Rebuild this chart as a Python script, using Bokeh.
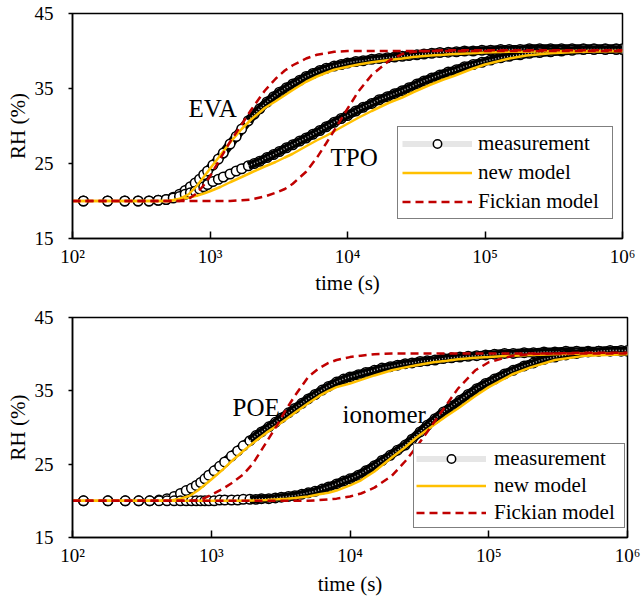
from bokeh.plotting import figure
from bokeh.models import (Range1d, FixedTicker, CustomJSTickFormatter, Legend,
                          LegendItem, Label, ColumnDataSource)
from bokeh.layouts import column
from bokeh.embed import file_html
from bokeh.resources import INLINE

FONT = "Liberation Serif"
ORANGE = "#FFC000"
RED = "#C00000"

# ---------------- data ----------------
meas_time = [120, 180, 240, 300, 360, 420, 480, 540, 600, 660,
             720, 780, 840, 900, 960, 1050, 1150, 1250, 1400, 1550,
             1700, 1900, 2100, 2300, 2600, 2900, 3200, 3600, 4000, 4500,
             5000, 5600, 6300, 7000, 8000, 9000, 10000, 11500, 13000, 15000,
             17000, 19500, 22000, 25000, 28000, 32000, 36000, 41000, 47000, 54000,
             62000, 71000, 82000, 95000, 110000, 130000, 150000, 180000, 210000, 250000,
             300000, 360000, 430000, 520000, 620000, 750000, 900000, 1000000]

eva_meas = [20.0, 20.0, 20.0, 20.0, 20.0, 20.1, 20.2, 20.5, 20.9, 21.4,
            21.9, 22.4, 22.9, 23.5, 24.0, 24.8, 25.6, 26.4, 27.6, 28.6,
            29.6, 30.7, 31.6, 32.3, 33.2, 33.9, 34.5, 35.1, 35.6, 36.1,
            36.6, 37.0, 37.4, 37.7, 38.0, 38.2, 38.4, 38.6, 38.7, 38.9,
            39.0, 39.1, 39.2, 39.3, 39.4, 39.5, 39.6, 39.7, 39.8, 39.85,
            39.9, 40.0, 40.0, 40.1, 40.1, 40.2, 40.2, 40.2, 40.3, 40.3,
            40.3, 40.3, 40.3, 40.3, 40.3, 40.3, 40.3, 40.3]

tpo_meas = [20.0, 20.0, 20.0, 20.0, 20.0, 20.1, 20.2, 20.4, 20.6, 20.9,
            21.1, 21.3, 21.6, 21.9, 22.2, 22.6, 22.9, 23.2, 23.6, 24.0,
            24.3, 24.7, 25.0, 25.3, 25.8, 26.2, 26.6, 27.1, 27.5, 28.0,
            28.4, 28.9, 29.4, 29.9, 30.5, 31.0, 31.4, 32.0, 32.5, 33.0,
            33.5, 33.9, 34.3, 34.7, 35.1, 35.6, 36.0, 36.4, 36.8, 37.2,
            37.5, 37.9, 38.2, 38.5, 38.8, 39.1, 39.3, 39.5, 39.7, 39.8,
            39.9, 40.0, 40.1, 40.2, 40.2, 40.2, 40.2, 40.2]

poe_meas = [20.0, 20.0, 20.0, 20.0, 20.0, 20.1, 20.3, 20.6, 21.0, 21.4,
            21.7, 22.1, 22.5, 23.0, 23.5, 24.1, 24.7, 25.3, 26.1, 26.8,
            27.5, 28.2, 28.9, 29.4, 30.1, 30.7, 31.3, 32.0, 32.6, 33.3,
            33.9, 34.5, 35.1, 35.6, 36.2, 36.6, 36.9, 37.2, 37.5, 37.8,
            38.1, 38.3, 38.5, 38.7, 38.8, 39.0, 39.1, 39.2, 39.4, 39.5,
            39.6, 39.7, 39.8, 39.9, 40.0, 40.1, 40.1, 40.2, 40.2, 40.3,
            40.3, 40.4, 40.4, 40.4, 40.4, 40.4, 40.4, 40.4]

ionomer_meas = [20.0, 20.0, 20.0, 20.0, 20.0, 20.0, 20.0, 20.0, 20.0, 20.0,
                20.0, 20.0, 20.0, 20.0, 20.0, 20.0, 20.1, 20.1, 20.1, 20.1,
                20.2, 20.2, 20.2, 20.3, 20.3, 20.4, 20.5, 20.6, 20.7, 20.9,
                21.1, 21.3, 21.6, 21.9, 22.3, 22.7, 23.0, 23.5, 24.1, 24.8,
                25.5, 26.2, 26.9, 27.6, 28.4, 29.4, 30.3, 31.2, 32.1, 32.9,
                33.7, 34.5, 35.3, 36.0, 36.6, 37.3, 37.8, 38.4, 38.8, 39.3,
                39.6, 39.9, 40.1, 40.3, 40.4, 40.5, 40.5, 40.5]

model_time = [100, 200, 300, 400, 500, 600, 700, 800, 900, 1000,
              1200, 1400, 1700, 2000, 2500, 3000, 3500, 4000,
              5000, 6000, 7000, 8000,
              10000, 12000, 15000, 20000, 25000, 30000, 40000, 50000, 60000, 80000,
              100000, 150000, 200000, 300000, 500000, 1000000]

eva_new = [20.0, 20.0, 20.0, 20.0, 20.0, 20.3, 20.9, 22.0, 23.2, 24.3,
           26.2, 27.8, 29.6, 30.9, 32.4, 33.3, 34.1, 34.8,
           35.9, 36.6, 37.1, 37.5,
           37.9, 38.2, 38.5, 38.8, 39.0, 39.2, 39.4, 39.5, 39.6, 39.7,
           39.8, 39.9, 39.9, 40.0, 40.0, 40.0]
eva_fick = [20.0, 20.0, 20.0, 20.0, 20.0, 20.0, 20.3, 21.0, 22.1, 23.3,
            25.8, 27.9, 30.2, 32.2, 34.7, 36.3, 37.4, 38.1,
            39.0, 39.5, 39.7, 39.9,
            40.0, 40.0, 40.0, 40.0, 40.0, 40.0, 40.0, 40.0, 40.0, 40.0,
            40.0, 40.0, 40.0, 40.0, 40.0, 40.0]
tpo_new = [20.0, 20.0, 20.0, 20.0, 20.0, 20.2, 20.45, 20.7, 21.0, 21.3,
           21.9, 22.5, 23.2, 23.8, 24.6, 25.2, 25.8, 26.3,
           27.3, 28.1, 28.7, 29.3,
           30.3, 31.1, 32.0, 33.1, 33.8, 34.5, 35.5, 36.2, 36.7, 37.6,
           38.2, 39.0, 39.4, 39.7, 39.9, 40.0]
tpo_fick = [20.0, 20.0, 20.0, 20.0, 20.0, 20.0, 20.0, 20.0, 20.0, 20.0,
            20.0, 20.0, 20.1, 20.2, 20.6, 21.1, 21.6, 22.3,
            23.9, 25.8, 27.7, 29.4,
            32.3, 34.6, 36.8, 38.7, 39.6, 39.9, 40.0, 40.1, 40.1, 40.1,
            40.1, 40.1, 40.1, 40.1, 40.1, 40.1]
poe_new = [20.0, 20.0, 20.0, 20.0, 20.0, 20.3, 20.7, 21.4, 22.2, 22.9,
           24.2, 25.4, 26.8, 27.9, 29.3, 30.3, 31.2, 32.0,
           33.3, 34.3, 35.0, 35.5,
           36.0, 36.5, 37.1, 37.8, 38.2, 38.5, 38.9, 39.1, 39.3, 39.5,
           39.6, 39.8, 39.9, 40.0, 40.1, 40.1]
poe_fick = [20.0, 20.0, 20.0, 20.0, 20.0, 20.0, 20.0, 20.1, 20.4, 20.8,
            21.6, 22.4, 23.6, 25.1, 28.0, 30.4, 32.6, 34.3,
            36.9, 38.1, 38.8, 39.2,
            39.6, 39.8, 40.0, 40.1, 40.1, 40.1, 40.1, 40.1, 40.1, 40.1,
            40.1, 40.1, 40.1, 40.1, 40.1, 40.1]
ionomer_new = [20.0, 20.0, 20.0, 20.0, 20.0, 20.0, 20.0, 20.0, 20.0, 20.0,
               20.0, 20.0, 20.0, 20.05, 20.1, 20.2, 20.3, 20.4,
               20.6, 20.9, 21.1, 21.4,
               22.1, 22.8, 24.0, 25.9, 27.3, 28.6, 30.3, 31.6, 32.6, 34.3,
               35.5, 37.3, 38.2, 39.2, 39.8, 40.0]
ionomer_fick = [20.0, 20.0, 20.0, 20.0, 20.0, 20.0, 20.0, 20.0, 20.0, 20.0,
                20.0, 20.0, 20.0, 20.0, 20.0, 20.0, 20.0, 20.0,
                20.0, 20.1, 20.2, 20.3,
                20.6, 21.0, 21.8, 23.4, 25.4, 27.3, 30.6, 33.2, 35.3, 37.8,
                38.9, 39.8, 40.0, 40.1, 40.2, 40.2]

x_ticks = [100, 1000, 10000, 100000, 1000000]
y_ticks = [15, 25, 35, 45]
legend_labels = ["measurement", "new model", "Fickian model"]

# ---------------- drawing ----------------
NAN = float("nan")


def make_panel(frame_w, frame_h, borders, curves, notes,
               legend_xy, legend_pad, legend_spacing, legend_standoff, legend_lw,
               title_standoff):
    b_left, b_right, b_top, b_bottom = borders
    p = figure(frame_width=frame_w, frame_height=frame_h, x_axis_type="log",
               x_range=Range1d(100, 1e6), y_range=Range1d(15, 45),
               output_backend="svg", toolbar_location=None,
               min_border_left=b_left, min_border_right=b_right,
               min_border_top=b_top, min_border_bottom=b_bottom)
    p.xgrid.visible = False
    p.ygrid.visible = False
    p.outline_line_color = "black"
    p.outline_line_width = 1.5
    p.background_fill_color = "white"
    p.border_fill_color = "white"

    xa = p.xaxis[0]
    xa.ticker = FixedTicker(ticks=x_ticks, minor_ticks=[])
    xa.formatter = CustomJSTickFormatter(code="""
        const s = {2: "\\u00b2", 3: "\\u00b3", 4: "\\u2074", 5: "\\u2075", 6: "\\u2076"};
        return "10" + s[Math.round(Math.log10(tick))];
    """)
    xa.axis_label = "time (s)"
    xa.major_tick_in = 7
    xa.major_tick_out = 0
    xa.major_label_standoff = 7
    xa.axis_label_standoff = title_standoff

    ya = p.yaxis[0]
    ya.ticker = FixedTicker(ticks=y_ticks, minor_ticks=[])
    ya.axis_label = "RH (%)"
    ya.major_tick_in = 0
    ya.major_tick_out = 4
    ya.major_label_standoff = 15
    ya.axis_label_standoff = 2

    for ax in (xa, ya):
        ax.axis_line_color = "black"
        ax.axis_line_width = 1.5
        ax.major_tick_line_color = "black"
        ax.major_tick_line_width = 1.5
        ax.minor_tick_line_color = None
        ax.major_label_text_font = FONT
        ax.major_label_text_font_size = "19px"
        ax.major_label_text_color = "black"
        ax.axis_label_text_font = FONT
        ax.axis_label_text_font_size = "21px"
        ax.axis_label_text_font_style = "normal"
        ax.axis_label_text_color = "black"

    # measurement: dense band of overlapping open circles
    for meas, new, fick in curves:
        under = ColumnDataSource(dict(t=meas_time[8:], rh=meas[8:]))
        p.line("t", "rh", source=under, line_color="black", line_width=9)
        p.scatter(meas_time, meas, marker="circle", size=9.5, line_color="black",
                  line_width=1.5, fill_color="white")
        over = ColumnDataSource(dict(t=meas_time[21:], rh=meas[21:]))
        p.line("t", "rh", source=over, line_color="black", line_width=8)
        p.line("t", "rh", source=over, line_color="#bbbbbb", line_width=1.5,
               line_dash="1 2")
    for meas, new, fick in curves:
        p.line(model_time, new, line_color=ORANGE, line_width=2.5)
    for meas, new, fick in curves:
        p.line(model_time, fick, line_color=RED, line_width=2.5, line_dash="8 5")

    for txt, tx, ty in notes:
        p.add_layout(Label(x=tx, y=ty, text=txt, text_font=FONT,
                           text_font_size="25px", text_color="black",
                           text_baseline="alphabetic"))

    # legend-only renderers (single NaN point: nothing drawn on the plot)
    empty = ColumnDataSource(dict(x=[NAN], y=[NAN]))
    lg_line = p.line("x", "y", source=empty, line_color="#e6e6e6", line_width=6)
    lg_circ = p.scatter("x", "y", source=empty, marker="circle", size=9,
                        line_color="black", line_width=1.5, fill_color="white")
    lg_new = p.line("x", "y", source=empty, line_color=ORANGE, line_width=2.5)
    lg_fick = p.line("x", "y", source=empty, line_color=RED, line_width=2.5,
                     line_dash="8 5")
    legend = Legend(items=[LegendItem(label=legend_labels[0], renderers=[lg_line, lg_circ]),
                           LegendItem(label=legend_labels[1], renderers=[lg_new]),
                           LegendItem(label=legend_labels[2], renderers=[lg_fick])],
                    location=legend_xy, border_line_color="black",
                    border_line_width=1, background_fill_color="white",
                    background_fill_alpha=1.0, label_text_font=FONT,
                    label_text_font_size="21px", label_text_color="black",
                    glyph_width=70, glyph_height=21, label_height=21,
                    label_width=legend_lw,
                    label_standoff=legend_standoff, padding=legend_pad,
                    spacing=legend_spacing, margin=0)
    p.add_layout(legend)
    return p


top = make_panel(550, 225, (72, 22, 13, 67),
                 [(eva_meas, eva_new, eva_fick), (tpo_meas, tpo_new, tpo_fick)],
                 [("EVA", 698, 32.3), ("TPO", 7520, 25.8)],
                 (325, 19), 4, 4, 6, 130, 1)
bottom = make_panel(555, 220, (72, 17, 12, 65),
                    [(poe_meas, poe_new, poe_fick), (ionomer_meas, ionomer_new, ionomer_fick)],
                    [("POE", 1423, 32.7), ("ionomer", 8830, 31.8)],
                    (341, 9), 2, 2, 8, 128, 3)

layout = column(top, bottom)
open("out.html", "w").write(file_html(layout, INLINE))
